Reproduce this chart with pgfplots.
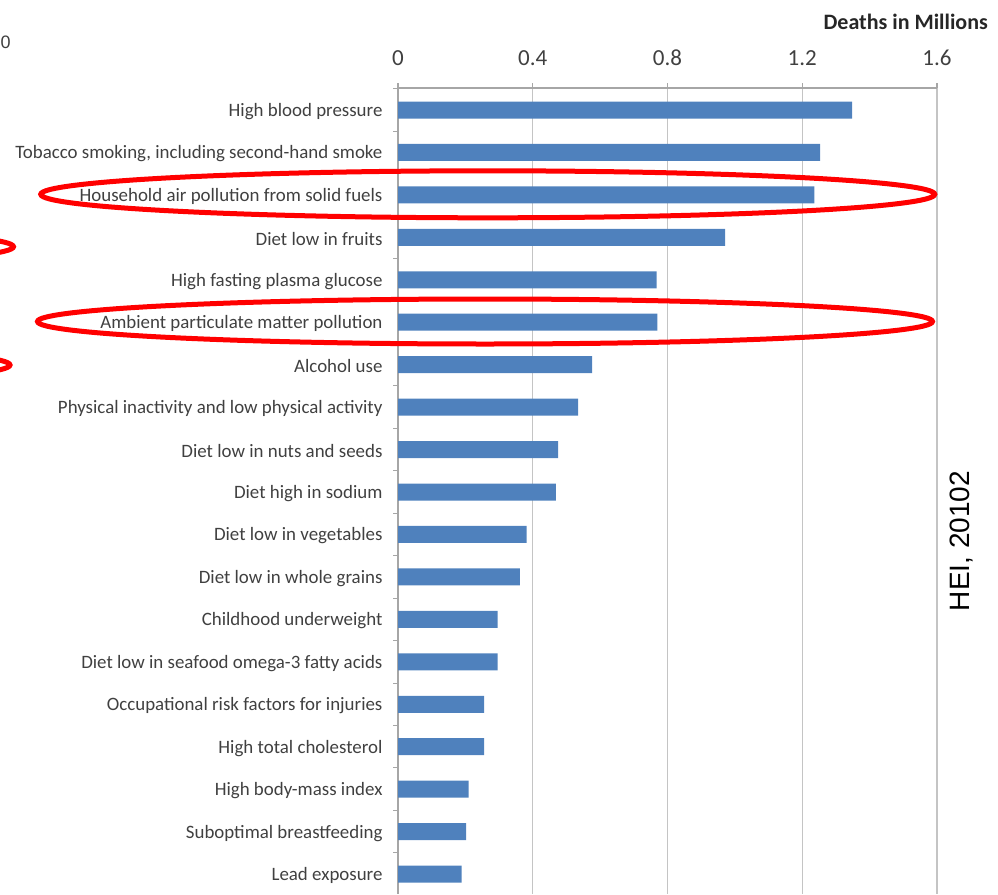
\documentclass[border=0pt]{standalone}
\usepackage{pgfplots}
\pgfplotsset{compat=1.18}
\usepackage{fontspec}
\setmainfont{Carlito}
\newfontfamily\arial{Liberation Sans}
\definecolor{barblue}{HTML}{4F81BD}
\definecolor{gridgray}{HTML}{C4C4C4}
\definecolor{axgray}{HTML}{A6A6A6}
\definecolor{txt}{HTML}{404040}
\begin{document}
\begin{tikzpicture}
\useasboundingbox (0,0) rectangle (998pt,-894pt);
\clip (0,0) rectangle (998pt,-894pt);
\begin{axis}[
  at={(398pt,-88pt)}, anchor=north west,
  scale only axis, width=539pt, height=806pt,
  xmin=0, xmax=1.6, ymin=-0.518, ymax=18.47, y dir=reverse,
  axis x line*=top, axis y line*=left,
  axis line style={axgray, line width=1.5pt},
  xtick={0,0.4,0.8,1.2,1.6},
  xmajorgrids, grid style={gridgray, line width=1.3pt},
  x tick style={axgray, line width=1.3pt},
  major tick length=5pt,
  tick align=outside,
  x tick label style={font=\fontsize{23}{26}\selectfont, text=txt, yshift=14pt},
  /pgf/number format/assume math mode=true,
  ytick={-0.5,0.5,...,18.5}, yticklabel=\empty,
  y tick style={axgray, line width=1pt},
  extra y ticks={0,1,...,18},
  extra y tick labels={High blood pressure,{Tobacco smoking, including second-hand smoke},Household air pollution from solid fuels,Diet low in fruits,High fasting plasma glucose,Ambient particulate matter pollution,Alcohol use,Physical inactivity and low physical activity,Diet low in nuts and seeds,Diet high in sodium,Diet low in vegetables,Diet low in whole grains,Childhood underweight,Diet low in seafood omega-3 fatty acids,Occupational risk factors for injuries,High total cholesterol,High body-mass index,Suboptimal breastfeeding,Lead exposure},
  extra y tick style={tick style={draw=none}, tick label style={font=\fontsize{18.9}{22}\selectfont, text=txt, xshift=-7pt, yshift=-1.5pt}},
  xbar, bar width=17pt,
]
\addplot[fill=barblue, draw=none] coordinates {
(1.348,0) (1.253,1) (1.236,2) (0.971,3) (0.768,4) (0.770,5) (0.576,6) (0.535,7) (0.475,8) (0.469,9) (0.382,10) (0.362,11) (0.296,12) (0.296,13) (0.256,14) (0.256,15) (0.210,16) (0.202,17) (0.189,18)};
\end{axis}
\draw[red, line width=5pt] (487.75pt,-194.3pt) ellipse [x radius=447pt, y radius=23.5pt];
\draw[red, line width=5pt] (485pt,-321.5pt) ellipse [x radius=447.5pt, y radius=22.5pt];
\draw[red, line width=5pt] (-433.5pt,-246.7pt) ellipse [x radius=447pt, y radius=22.5pt];
\draw[red, line width=5pt] (-437pt,-365pt) ellipse [x radius=447pt, y radius=22.5pt];
\node[anchor=east, inner sep=0, font=\bfseries\fontsize{22}{26}\selectfont, text=black!85] at (988pt,-22pt) {Deaths in Millions};
\node[rotate=90, inner sep=0, font=\arial\fontsize{28}{32}\selectfont] at (962pt,-541pt) {HEI, 20102};
\node[anchor=west, inner sep=0, font=\arial\fontsize{18}{22}\selectfont, text=txt] at (0.5pt,-42pt) {0};
\end{tikzpicture}
\end{document}
